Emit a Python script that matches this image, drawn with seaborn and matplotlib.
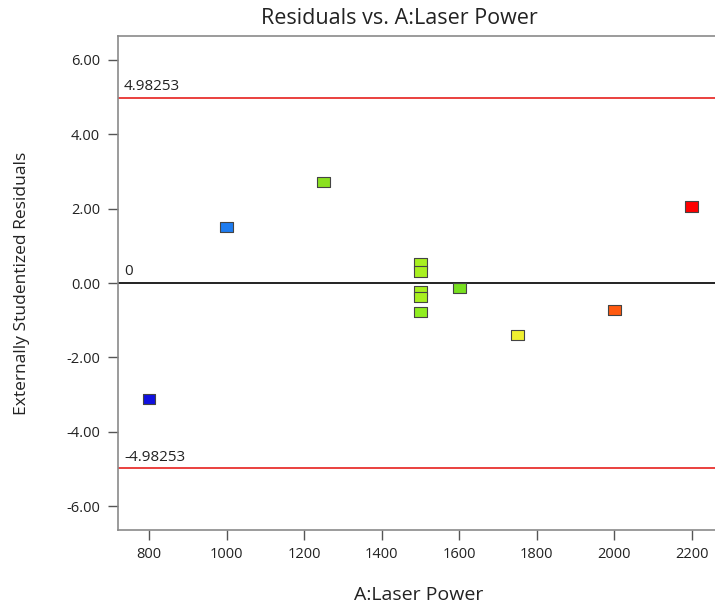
import matplotlib
matplotlib.use("Agg")
import matplotlib.pyplot as plt
import matplotlib.transforms as mtransforms
import seaborn as sns
import pandas as pd

laser_power = [800, 1000, 1250, 1500, 1500, 1500, 1500, 1500, 1600, 1750, 2000, 2200]
residuals = [-3.12, 1.50, 2.71, 0.53, 0.31, -0.22, -0.38, -0.78, -0.14, -1.39, -0.73, 2.06]
point_colors = ["#1010e0", "#1e7cf0", "#8ae020", "#a8f020", "#a8f020", "#a8f020", "#a8f020",
                "#90ee20", "#78e020", "#f0f030", "#ff5a10", "#ff0000"]
limit = 4.98253
yticks = [-6, -4, -2, 0, 2, 4, 6]
xticks = [800, 1000, 1200, 1400, 1600, 1800, 2000, 2200]

sns.set_theme(style="white")
plt.rcParams["font.family"] = ["Open Sans", "DejaVu Sans"]

df = pd.DataFrame({"x": laser_power, "y": residuals, "c": [str(i) for i in range(len(laser_power))]})
palette = dict(zip(df["c"], point_colors))

fig = plt.figure(figsize=(7.15, 6.08), dpi=100)
ax = fig.add_axes([0.165, 0.128, 0.835, 0.813])

ax.axhline(limit, color="#e8312f", lw=1.3, zorder=1)
ax.axhline(-limit, color="#e8312f", lw=1.3, zorder=1)
ax.axhline(0, color="#111111", lw=1.3, zorder=1)

rect = [(-1, -0.82), (1, -0.82), (1, 0.82), (-1, 0.82), (-1, -0.82)]
sns.scatterplot(data=df, x="x", y="y", hue="c", palette=palette, marker=rect, s=85,
                edgecolor="#444444", linewidth=0.8, legend=False, ax=ax, zorder=3)

ax.set_xlim(720, 2260)
ax.set_ylim(-6.64, 6.64)
ax.set_xticks(xticks)
ax.set_yticks(yticks)
ax.set_yticklabels([f"{v:.2f}" for v in yticks])
ax.tick_params(axis="both", direction="out", length=7, width=1, color="#555555",
               labelsize=10.5, labelcolor="#222222", bottom=True, left=True)
ax.tick_params(axis="x", pad=5)
ax.tick_params(axis="y", pad=6)

for side in ["left", "bottom", "top"]:
    ax.spines[side].set_color("#8a8a8a")
    ax.spines[side].set_linewidth(1.2)
ax.spines["right"].set_visible(False)

trans = mtransforms.blended_transform_factory(ax.transAxes, ax.transData)
ax.text(0.01, limit + 0.1, "4.98253", transform=trans, fontsize=11, color="#222222", va="bottom")
ax.text(0.01, 0.1, "0", transform=trans, fontsize=11, color="#222222", va="bottom")
ax.text(0.01, -limit + 0.1, "-4.98253", transform=trans, fontsize=11, color="#222222", va="bottom")

ax.set_xlabel("A:Laser Power", fontsize=14, color="#222222", va="center")
ax.xaxis.set_label_coords(0.504, -0.132)
ax.set_ylabel("Externally Studentized Residuals", fontsize=12.5, color="#222222", va="center")
ax.yaxis.set_label_coords(-0.161, 0.5)
fig.text(0.558, 0.97, "Residuals vs. A:Laser Power", fontsize=15.5, color="#222222",
         ha="center", va="center")

fig.savefig("out.png", dpi=100)
